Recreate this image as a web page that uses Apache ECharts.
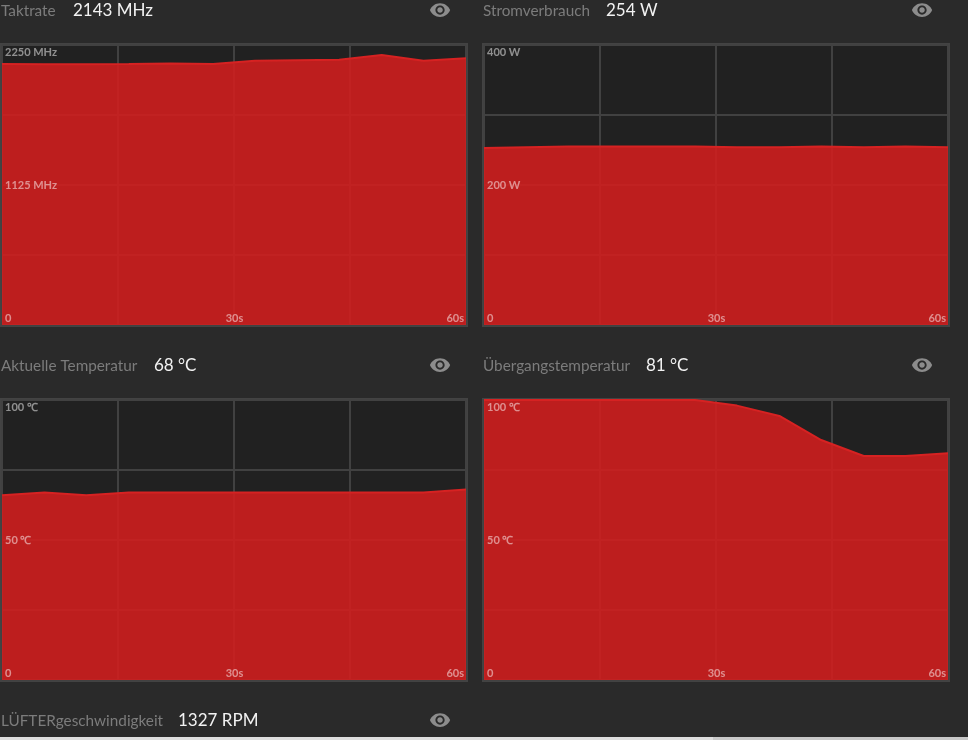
<!DOCTYPE html>
<html><head><meta charset="utf-8">
<style>html,body{margin:0;padding:0;background:#2a2a2a}#c{width:968px;height:740px}</style>
<script src="https://cdn.jsdelivr.net/npm/echarts@6/dist/echarts.min.js"></script>
</head><body><div id="c"></div>
<script>
const seconds = [0,5.5,10.9,16.4,21.8,27.3,32.7,38.2,43.6,49.1,54.5,60];
const taktrate = [2098,2095,2095,2098,2102,2098,2124,2128,2132,2170,2124,2144];
const strom = [253,254,255,255,255,255,254,254,255,254,255,254];
const aktuelle = [66,67,66,67,67,67,67,67,67,67,67,68];
const uebergang = [100,100,100,100,100,100,98,94.3,85.7,80,80,81];
const panelNames = ['Taktrate','Stromverbrauch','Aktuelle Temperatur','Übergangstemperatur','LÜFTERgeschwindigkeit'];
const panelValues = ['2143 MHz','254 W','68 °C','81 °C','1327 RPM'];
const panelUnits = ['MHz','W','℃','℃'];
const panelMax = [2250,400,100,100];
const seriesData = [taktrate,strom,aktuelle,uebergang];
const timeLabels = {0:'0',30:'30s',60:'60s'};

const L=[2,484], T=[45,400];
const grids=[],xAxes=[],yAxes=[],series=[],graphic=[];
const eye='M12 4.5C7 4.5 2.73 7.61 1 12c1.73 4.39 6 7.5 11 7.5s9.27-3.11 11-7.5c-1.73-4.39-6-7.5-11-7.5zM12 17c-2.76 0-5-2.24-5-5s2.24-5 5-5 5 2.24 5 5-2.24 5-5 5zm0-8c-1.66 0-3 1.34-3 3s1.34 3 3 3 3-1.34 3-3-1.34-3-3-3z';
echarts.graphic.registerShape('eyeIcon',echarts.graphic.extendPath(eye,{}));
const font='Lato';
const split={show:true,lineStyle:{color:'#414141',width:2}};
const labelColor='rgba(255,255,255,0.5)';
const hidden={axisLine:{show:false},axisTick:{show:false}};
seriesData.forEach((d,i)=>{
  const left=L[i%2], top=T[i>>1], max=panelMax[i];
  grids.push({left,top,width:464,height:280,show:true,backgroundColor:'#212121',borderWidth:0});
  graphic.push({type:'rect',shape:{x:left-1,y:top-1,width:466,height:282},style:{fill:'none',stroke:'#434343',lineWidth:2}});
  xAxes.push({type:'value',gridIndex:i,min:0,max:60,interval:15,...hidden,splitLine:split,axisLabel:{show:false}});
  yAxes.push({type:'value',gridIndex:i,min:0,max,interval:max/4,...hidden,splitLine:split,axisLabel:{show:false}});
  series.push({type:'line',xAxisIndex:i,yAxisIndex:i,symbol:'none',silent:true,
    data:seconds.map((s,k)=>[s,d[k]]),
    lineStyle:{color:'#d62222',width:2},
    areaStyle:{color:'#d81d1d',opacity:0.85}});
});
seriesData.forEach((d,i)=>{
  const max=panelMax[i];
  xAxes.push({type:'value',gridIndex:i,position:'bottom',z:10,min:0,max:60,interval:15,...hidden,splitLine:{show:false},
    axisLabel:{inside:true,margin:1,color:labelColor,fontFamily:font,fontSize:11,fontWeight:'bold',
      alignMinLabel:'left',alignMaxLabel:'right',showMinLabel:true,showMaxLabel:true,
      padding:[0,2,0,3],formatter:v=>timeLabels[v]||''}});
  yAxes.push({type:'value',gridIndex:i,position:'left',z:10,min:0,max,interval:max/4,...hidden,splitLine:{show:false},
    axisLabel:{inside:true,margin:3,color:labelColor,fontFamily:font,fontSize:11,fontWeight:'bold',
      verticalAlignMaxLabel:'top',showMaxLabel:true,
      rich:{top:{padding:[2,0,0,0]}},
      formatter:v=>v===max?'{top|'+v+' '+panelUnits[i]+'}':(v===max/2?v+' '+panelUnits[i]:'')}});
  series.push({type:'line',xAxisIndex:i+4,yAxisIndex:i+4,symbol:'none',silent:true,data:[],lineStyle:{opacity:0}});
});
const labelLeft=[1,483], labelY=[11,366,721];
const valueX=[73,606,154,646,178], eyeX=[440,922];
panelNames.forEach((n,i)=>{
  const x=labelLeft[i%2], y=labelY[i>>1];
  graphic.push({type:'text',x,y,style:{text:n,fill:'#7c7c7c',font:'15.3px '+font,textVerticalAlign:'middle'}});
  graphic.push({type:'text',x:valueX[i],y,style:{text:panelValues[i],fill:'#f2f2f2',font:'17px '+font,textVerticalAlign:'middle'}});
  graphic.push({type:'eyeIcon',x:eyeX[i%2]-11,y:y-12,scaleX:0.92,scaleY:0.92,style:{fill:'#8c8c8c'}});
});
graphic.push({type:'rect',shape:{x:0,y:737,width:968,height:3},style:{fill:'#dedede'}});
graphic.push({type:'rect',shape:{x:713,y:737,width:255,height:3},style:{fill:'#c9c9c9'}});
const chart=echarts.init(document.getElementById('c'),null,{renderer:'canvas'});
chart.setOption({animation:false,backgroundColor:'#2a2a2a',grid:grids,xAxis:xAxes,yAxis:yAxes,series,graphic});
</script></body></html>
